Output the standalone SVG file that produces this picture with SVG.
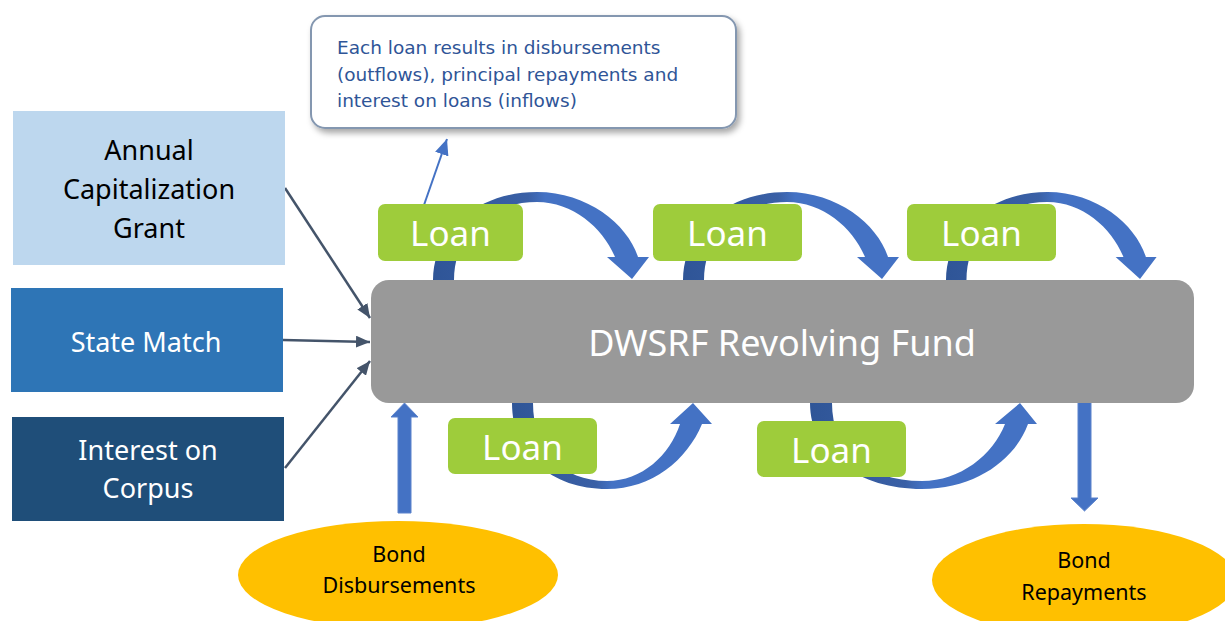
<svg xmlns="http://www.w3.org/2000/svg" width="1225" height="621" viewBox="0 0 1225 621">
<style>
.src{font-family:"Noto Sans","Open Sans",sans-serif;font-size:27px;text-anchor:middle}
.loan rect{fill:#9ECC3B}
.loan text{font-family:"Noto Sans","Open Sans",sans-serif;font-size:35px;fill:#fff;text-anchor:middle}
.bond ellipse{fill:#FFC000}
.bond text{font-family:"Noto Sans","Open Sans",sans-serif;font-size:21.5px;fill:#000;text-anchor:middle}
.conn{stroke:#44546A;stroke-width:2.5;fill:none;marker-end:url(#ah)}
.block{fill:#4472C4;stroke:#5A82CC;stroke-width:1}
.note{font-family:"DejaVu Sans",Verdana,sans-serif;font-size:18.5px;fill:#2F5597}
</style>
<defs>
<marker id="ah" viewBox="0 0 14 12" refX="14" refY="6" markerWidth="14" markerHeight="12" markerUnits="userSpaceOnUse" orient="auto">
<path d="M0,0 L14,6 L0,12 Z" fill="#44546A"/>
</marker>
<marker id="ah2" viewBox="0 0 16 14" refX="16" refY="7" markerWidth="16" markerHeight="14" markerUnits="userSpaceOnUse" orient="auto">
<path d="M0,0 L16,7 L0,14 Z" fill="#4472C4"/>
</marker>
<linearGradient id="gTop" x1="0" y1="0" x2="1" y2="0">
<stop offset="0" stop-color="#2F5597"/>
<stop offset="0.44" stop-color="#3A60A6"/>
<stop offset="0.52" stop-color="#4472C4"/>
<stop offset="1" stop-color="#4472C4"/>
</linearGradient>
<linearGradient id="gBot" x1="0" y1="0" x2="1" y2="0">
<stop offset="0" stop-color="#2F5597"/>
<stop offset="0.42" stop-color="#3A60A6"/>
<stop offset="0.5" stop-color="#4472C4"/>
<stop offset="1" stop-color="#4472C4"/>
</linearGradient>
<path id="topArc" d="M0,280 C0,230 45,192 104,192 C155,192 195,225 205,257 L216,257 L199,279 L174,257 L182,257 C170,228 140,202 104,202 C55,202 21,235 21,280 Z"/>
<filter id="sh" x="-10%" y="-20%" width="125%" height="150%">
<feDropShadow dx="3" dy="4" stdDeviation="3" flood-color="#000" flood-opacity="0.35"/>
</filter>
</defs>
<rect width="1225" height="621" fill="#fff"/>

<g id="connectors">
<line class="conn" x1="285" y1="188" x2="370" y2="318"/>
<line class="conn" x1="283" y1="340" x2="370" y2="342"/>
<line class="conn" x1="285" y1="468" x2="370" y2="361"/>
<line x1="424" y1="205" x2="447" y2="139" stroke="#4472C4" stroke-width="2" marker-end="url(#ah2)"/>
<use href="#topArc" fill="url(#gTop)" transform="translate(433,0)"/>
<use href="#topArc" fill="url(#gTop)" transform="translate(683,0)"/>
<use href="#topArc" fill="url(#gTop)" transform="translate(946,0) scale(0.975,1)"/>
<path fill="url(#gBot)" transform="translate(512,0)" d="M0,403 C0,455 40,489 95,489 C140,489 175,460 190,424 L200,424 L181,403 L158,424 L168,424 C158,455 130,481 95,481 C50,481 21,450 21,403 Z"/>
<path fill="url(#gBot)" transform="translate(810,0)" d="M0,403 C0,455 50,489 112,489 C165,489 205,460 218,424 L227,424 L210,403 L185,424 L195,424 C183,455 150,481 112,481 C55,481 22,450 22,403 Z"/>
<polygon class="block" points="398,513 411,513 411,417 418,417 404.5,403 391,417 398,417"/>
<polygon class="block" points="1078,402 1091,402 1091,498 1098,498 1084.5,511 1071,498 1078,498"/>
</g>

<g id="callout">
<rect x="311" y="16" width="425" height="112" rx="14" fill="#fff" stroke="#8497B0" stroke-width="2" filter="url(#sh)"/>
<text class="note" x="337" y="54">Each loan results in disbursements</text>
<text class="note" x="337" y="80.5">(outflows), principal repayments and</text>
<text class="note" x="337" y="107">interest on loans (inflows)</text>
</g>

<g id="annual-grant">
<rect x="13" y="111" width="272" height="154" fill="#BDD7EE"/>
<text class="src" x="149" y="160" fill="#000">Annual</text>
<text class="src" x="149" y="199" fill="#000">Capitalization</text>
<text class="src" x="149" y="238" fill="#000">Grant</text>
</g>
<g id="state-match">
<rect x="11" y="288" width="272" height="104" fill="#2E75B6"/>
<text class="src" x="146" y="352" fill="#fff">State Match</text>
</g>
<g id="interest-corpus">
<rect x="12" y="417" width="272" height="104" fill="#1F4E79"/>
<text class="src" x="148" y="460" fill="#fff">Interest on</text>
<text class="src" x="148" y="498" fill="#fff">Corpus</text>
</g>

<g id="fund">
<rect x="371" y="280" width="823" height="123" rx="18" fill="#999999"/>
<text x="782" y="356" font-family="'Noto Sans','Open Sans',sans-serif" font-size="36" fill="#fff" text-anchor="middle">DWSRF Revolving Fund</text>
</g>

<g id="loan-1" class="loan"><rect x="378" y="204" width="145" height="57" rx="7"/><text x="450.5" y="246">Loan</text></g>
<g id="loan-2" class="loan"><rect x="653" y="204" width="149" height="57" rx="7"/><text x="727.5" y="246">Loan</text></g>
<g id="loan-3" class="loan"><rect x="907" y="204" width="149" height="57" rx="7"/><text x="981.5" y="246">Loan</text></g>
<g id="loan-4" class="loan"><rect x="448" y="418" width="149" height="56" rx="7"/><text x="522.5" y="460">Loan</text></g>
<g id="loan-5" class="loan"><rect x="757" y="421" width="149" height="56" rx="7"/><text x="831.5" y="463">Loan</text></g>

<g id="bond-disbursements" class="bond">
<ellipse cx="398" cy="575" rx="160" ry="54"/>
<text x="399" y="562">Bond</text>
<text x="399" y="593">Disbursements</text>
</g>
<g id="bond-repayments" class="bond">
<ellipse cx="1084" cy="580" rx="152" ry="56"/>
<text x="1084" y="568">Bond</text>
<text x="1084" y="600">Repayments</text>
</g>
</svg>
